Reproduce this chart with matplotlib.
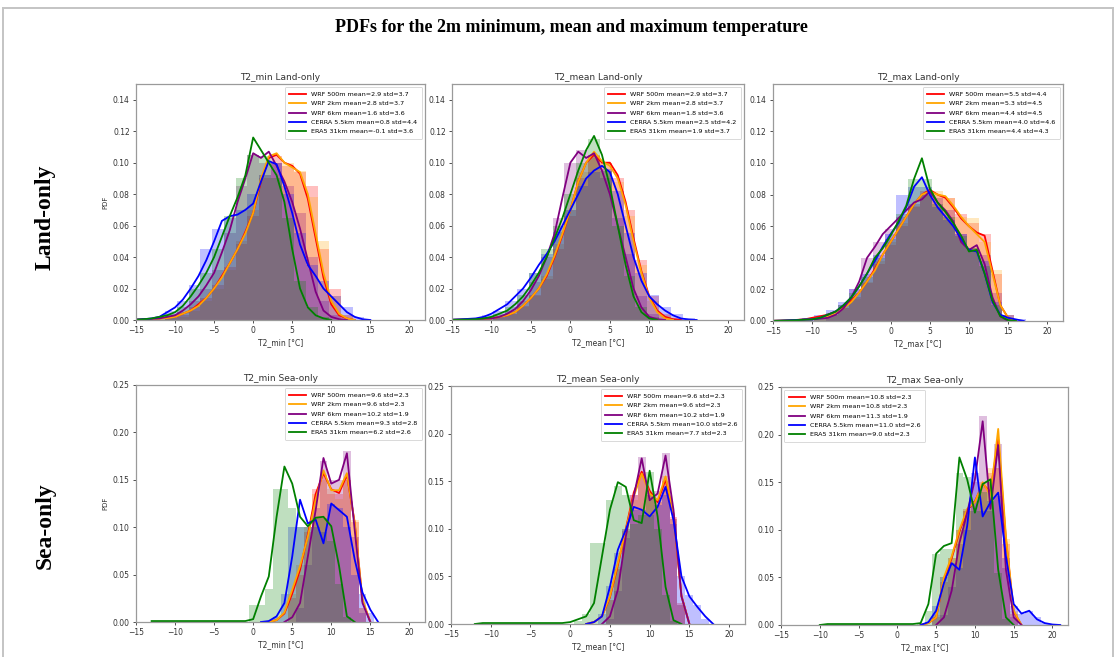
import matplotlib
matplotlib.use("Agg")
import matplotlib.pyplot as plt
from matplotlib.lines import Line2D
from matplotlib.ticker import FormatStrFormatter
import numpy as np

# ---- shared names / colours ----
names = ['WRF 500m', 'WRF 2km', 'WRF 6km', 'CERRA 5.5km', 'ERA5 31km']
colors = ['red', 'orange', 'purple', 'blue', 'green']

# ---- grids (deg C) ----
land_x = [-15, -14, -13, -12, -11, -10, -9, -8, -7, -6, -5, -4, -3, -2, -1,
          0, 1, 2, 3, 4, 5, 6, 7, 8, 9, 10, 11, 12, 13, 14, 15, 16, 17]
sea_x = [-13, -12, -11, -10, -9, -8, -7, -6, -5, -4, -3, -2, -1,
         0, 1, 2, 3, 4, 5, 6, 7, 8, 9, 10, 11, 12, 13, 14, 15, 16, 17, 18, 19, 20, 21]
land_bins = [-13.5, -12, -10.5, -9, -7.5, -6, -4.5, -3, -1.5, 0, 1.5, 3, 4.5, 6,
             7.5, 9, 10.5, 12, 13.5, 15, 16.5]
sea_bins = [0, 1, 2, 3, 4, 5, 6, 7, 8, 9, 10, 11, 12, 13, 14, 15, 16, 17, 18, 19, 20]

# ---- T2_min land: kde curves ----
tmin_land_wrf500 = [0.0002, 0.0003, 0.0006, 0.001, 0.0015, 0.002, 0.004, 0.006, 0.010, 0.014, 0.020, 0.028, 0.036, 0.045, 0.056,
                    0.068, 0.088, 0.103, 0.105, 0.100, 0.098, 0.093, 0.077, 0.052, 0.027, 0.010, 0.003, 0.001, 0, 0, 0, 0, 0]
tmin_land_wrf2 = [0.0002, 0.0003, 0.0005, 0.0008, 0.0012, 0.002, 0.004, 0.006, 0.009, 0.014, 0.020, 0.027, 0.036, 0.045, 0.055,
                  0.068, 0.090, 0.104, 0.106, 0.100, 0.097, 0.094, 0.080, 0.055, 0.030, 0.012, 0.004, 0.001, 0, 0, 0, 0, 0]
tmin_land_wrf6 = [0.0002, 0.0004, 0.0007, 0.001, 0.002, 0.003, 0.006, 0.010, 0.015, 0.022, 0.030, 0.043, 0.057, 0.075, 0.090,
                  0.106, 0.103, 0.107, 0.098, 0.088, 0.075, 0.058, 0.038, 0.018, 0.006, 0.002, 0.0005, 0, 0, 0, 0, 0, 0]
tmin_land_cerra = [0.0002, 0.0005, 0.001, 0.002, 0.005, 0.008, 0.013, 0.020, 0.028, 0.038, 0.050, 0.063, 0.066, 0.067, 0.070,
                   0.074, 0.088, 0.101, 0.099, 0.085, 0.068, 0.048, 0.035, 0.028, 0.020, 0.015, 0.010, 0.005, 0.002, 0.0005, 0, 0, 0]
tmin_land_era5 = [0.0002, 0.0005, 0.001, 0.002, 0.003, 0.005, 0.009, 0.015, 0.022, 0.030, 0.040, 0.053, 0.066, 0.078, 0.092,
                  0.116, 0.108, 0.100, 0.092, 0.075, 0.045, 0.020, 0.008, 0.003, 0.001, 0, 0, 0, 0, 0, 0, 0, 0]
# histograms
tmin_land_h_wrf500 = [0, 0, 0.001, 0.003, 0.008, 0.014, 0.022, 0.034, 0.048, 0.066, 0.090, 0.104, 0.098, 0.094, 0.085, 0.045, 0.020, 0.003, 0, 0, 0]
tmin_land_h_wrf2 = [0, 0, 0.001, 0.002, 0.006, 0.012, 0.020, 0.032, 0.050, 0.070, 0.092, 0.100, 0.100, 0.095, 0.078, 0.050, 0.015, 0.003, 0, 0, 0]
tmin_land_h_wrf6 = [0, 0, 0.002, 0.005, 0.012, 0.020, 0.032, 0.055, 0.085, 0.105, 0.100, 0.100, 0.085, 0.068, 0.040, 0.012, 0.003, 0, 0, 0, 0]
tmin_land_h_cerra = [0.001, 0.002, 0.006, 0.012, 0.022, 0.045, 0.058, 0.065, 0.070, 0.080, 0.092, 0.100, 0.080, 0.055, 0.035, 0.025, 0.015, 0.008, 0.002, 0, 0]
tmin_land_h_era5 = [0, 0.001, 0.004, 0.008, 0.020, 0.030, 0.045, 0.066, 0.090, 0.105, 0.104, 0.090, 0.065, 0.025, 0.008, 0.002, 0, 0, 0, 0, 0]
tmin_land_mean = [2.9, 2.8, 1.6, 0.8, -0.1]
tmin_land_std = [3.7, 3.7, 3.6, 4.4, 3.6]

# ---- T2_mean land ----
tmean_land_wrf500 = [0.0001, 0.0002, 0.0003, 0.0005, 0.0008, 0.001, 0.002, 0.003, 0.005, 0.009, 0.014, 0.020, 0.028, 0.040, 0.054,
                     0.070, 0.088, 0.100, 0.105, 0.100, 0.100, 0.092, 0.075, 0.052, 0.031, 0.015, 0.006, 0.002, 0.0005, 0, 0, 0, 0]
tmean_land_wrf2 = [0.0001, 0.0002, 0.0003, 0.0005, 0.0008, 0.001, 0.002, 0.003, 0.005, 0.009, 0.014, 0.020, 0.029, 0.041, 0.055,
                   0.070, 0.088, 0.100, 0.107, 0.101, 0.098, 0.090, 0.073, 0.050, 0.030, 0.014, 0.005, 0.001, 0, 0, 0, 0, 0]
tmean_land_wrf6 = [0.0001, 0.0002, 0.0003, 0.0005, 0.0008, 0.001, 0.002, 0.004, 0.007, 0.012, 0.019, 0.028, 0.040, 0.055, 0.078,
                   0.100, 0.107, 0.103, 0.106, 0.095, 0.080, 0.060, 0.040, 0.020, 0.008, 0.002, 0.0005, 0, 0, 0, 0, 0, 0]
tmean_land_cerra = [0.0002, 0.0004, 0.0007, 0.001, 0.002, 0.004, 0.007, 0.010, 0.015, 0.020, 0.027, 0.035, 0.042, 0.050, 0.060,
                    0.070, 0.080, 0.090, 0.095, 0.098, 0.094, 0.080, 0.060, 0.040, 0.025, 0.015, 0.010, 0.006, 0.003, 0.001, 0.0003, 0, 0]
tmean_land_era5 = [0.0001, 0.0002, 0.0003, 0.0005, 0.001, 0.002, 0.004, 0.006, 0.010, 0.015, 0.022, 0.030, 0.040, 0.052, 0.065,
                   0.080, 0.095, 0.108, 0.117, 0.105, 0.085, 0.060, 0.035, 0.015, 0.005, 0.001, 0, 0, 0, 0, 0, 0, 0]
tmean_land_h_wrf500 = [0, 0, 0, 0.002, 0.004, 0.009, 0.016, 0.026, 0.045, 0.066, 0.090, 0.105, 0.100, 0.090, 0.070, 0.038, 0.015, 0.004, 0.001, 0, 0]
tmean_land_h_wrf2 = [0, 0, 0, 0.001, 0.004, 0.008, 0.015, 0.028, 0.048, 0.070, 0.094, 0.103, 0.100, 0.088, 0.066, 0.035, 0.012, 0.003, 0, 0, 0]
tmean_land_h_wrf6 = [0, 0, 0, 0.002, 0.006, 0.012, 0.024, 0.040, 0.065, 0.100, 0.108, 0.104, 0.090, 0.065, 0.042, 0.015, 0.004, 0, 0, 0, 0]
tmean_land_h_cerra = [0, 0.001, 0.003, 0.006, 0.012, 0.020, 0.030, 0.042, 0.056, 0.070, 0.085, 0.094, 0.096, 0.082, 0.055, 0.030, 0.016, 0.008, 0.004, 0.001, 0]
tmean_land_h_era5 = [0, 0, 0.002, 0.004, 0.008, 0.016, 0.030, 0.045, 0.060, 0.080, 0.100, 0.115, 0.095, 0.060, 0.028, 0.008, 0.002, 0, 0, 0, 0]
tmean_land_mean = [2.9, 2.8, 1.8, 2.5, 1.9]
tmean_land_std = [3.7, 3.7, 3.6, 4.2, 3.7]

# ---- T2_max land ----
tmax_land_wrf500 = [0.0001, 0.0002, 0.0004, 0.0007, 0.001, 0.002, 0.003, 0.004, 0.006, 0.009, 0.013, 0.018, 0.025, 0.033, 0.042,
                    0.050, 0.058, 0.066, 0.074, 0.080, 0.083, 0.080, 0.078, 0.072, 0.065, 0.060, 0.056, 0.054, 0.032, 0.010, 0.002, 0, 0]
tmax_land_wrf2 = [0.0001, 0.0002, 0.0003, 0.0006, 0.001, 0.001, 0.002, 0.003, 0.005, 0.008, 0.012, 0.018, 0.025, 0.032, 0.042,
                  0.050, 0.058, 0.066, 0.074, 0.080, 0.082, 0.080, 0.079, 0.073, 0.066, 0.060, 0.055, 0.050, 0.030, 0.010, 0.002, 0, 0]
tmax_land_wrf6 = [0.0001, 0.0002, 0.0003, 0.0005, 0.0008, 0.001, 0.0015, 0.002, 0.004, 0.008, 0.015, 0.025, 0.040, 0.047, 0.055,
                  0.060, 0.065, 0.070, 0.075, 0.077, 0.082, 0.075, 0.070, 0.063, 0.050, 0.045, 0.048, 0.036, 0.015, 0.003, 0, 0, 0]
tmax_land_cerra = [0.0001, 0.0002, 0.0004, 0.0006, 0.001, 0.001, 0.002, 0.004, 0.006, 0.010, 0.015, 0.022, 0.030, 0.038, 0.047,
                   0.055, 0.062, 0.072, 0.085, 0.091, 0.080, 0.072, 0.066, 0.060, 0.052, 0.045, 0.044, 0.030, 0.012, 0.004, 0.002, 0.001, 0]
tmax_land_era5 = [0.0001, 0.0002, 0.0003, 0.0005, 0.0008, 0.001, 0.002, 0.004, 0.006, 0.010, 0.015, 0.022, 0.030, 0.040, 0.046,
                  0.054, 0.063, 0.073, 0.090, 0.103, 0.084, 0.075, 0.069, 0.062, 0.054, 0.044, 0.045, 0.030, 0.013, 0.003, 0.0005, 0, 0]
tmax_land_h_wrf500 = [0, 0, 0, 0.002, 0.004, 0.008, 0.015, 0.024, 0.036, 0.048, 0.060, 0.072, 0.082, 0.080, 0.078, 0.068, 0.062, 0.055, 0.030, 0.004, 0]
tmax_land_h_wrf2 = [0, 0, 0, 0.001, 0.004, 0.008, 0.014, 0.025, 0.038, 0.050, 0.062, 0.073, 0.080, 0.082, 0.078, 0.066, 0.065, 0.050, 0.032, 0.004, 0]
tmax_land_h_wrf6 = [0, 0, 0, 0, 0.004, 0.010, 0.020, 0.040, 0.050, 0.058, 0.066, 0.074, 0.080, 0.078, 0.070, 0.055, 0.046, 0.042, 0.018, 0.002, 0]
tmax_land_h_cerra = [0, 0, 0.002, 0.004, 0.007, 0.012, 0.020, 0.030, 0.042, 0.055, 0.080, 0.085, 0.085, 0.072, 0.064, 0.055, 0.045, 0.038, 0.012, 0.004, 0.001]
tmax_land_h_era5 = [0, 0, 0, 0.002, 0.005, 0.010, 0.018, 0.028, 0.040, 0.052, 0.068, 0.090, 0.090, 0.074, 0.066, 0.054, 0.046, 0.035, 0.010, 0.001, 0]
tmax_land_mean = [5.5, 5.3, 4.4, 4.0, 4.4]
tmax_land_std = [4.4, 4.5, 4.5, 4.6, 4.3]

# ---- T2_min sea ----
tmin_sea_wrf500 = [0, 0, 0, 0, 0, 0, 0, 0, 0, 0, 0, 0, 0,
                   0, 0, 0, 0.002, 0.009, 0.030, 0.055, 0.092, 0.135, 0.157, 0.140, 0.136, 0.155, 0.105, 0.022, 0, 0, 0, 0, 0, 0, 0]
tmin_sea_wrf2 = [0, 0, 0, 0, 0, 0, 0, 0, 0, 0, 0, 0, 0,
                 0, 0, 0, 0.002, 0.010, 0.034, 0.059, 0.090, 0.129, 0.160, 0.139, 0.139, 0.157, 0.104, 0.024, 0, 0, 0, 0, 0, 0, 0]
tmin_sea_wrf6 = [0, 0, 0, 0, 0, 0, 0, 0, 0, 0, 0, 0, 0,
                 0, 0, 0, 0, 0, 0.005, 0.020, 0.069, 0.118, 0.173, 0.146, 0.150, 0.178, 0.097, 0.020, 0, 0, 0, 0, 0, 0, 0]
tmin_sea_cerra = [0, 0, 0, 0, 0, 0, 0, 0, 0, 0, 0, 0, 0,
                  0, 0, 0.001, 0.006, 0.020, 0.069, 0.129, 0.104, 0.108, 0.083, 0.125, 0.118, 0.111, 0.066, 0.031, 0.013, 0, 0, 0, 0, 0, 0]
tmin_sea_era5 = [0.001, 0.001, 0.001, 0.001, 0.001, 0.001, 0.001, 0.001, 0.001, 0.001, 0.001, 0.001, 0.001,
                 0.003, 0.027, 0.048, 0.111, 0.164, 0.146, 0.111, 0.101, 0.110, 0.111, 0.101, 0.059, 0.006, 0, 0, 0, 0, 0, 0, 0, 0, 0]
tmin_sea_h_wrf500 = [0, 0, 0, 0, 0, 0.025, 0.050, 0.095, 0.140, 0.155, 0.135, 0.135, 0.150, 0.105, 0.015, 0, 0, 0, 0, 0, 0]
tmin_sea_h_wrf2 = [0, 0, 0, 0, 0, 0.030, 0.060, 0.100, 0.135, 0.150, 0.140, 0.130, 0.150, 0.108, 0.015, 0, 0, 0, 0, 0, 0]
tmin_sea_h_wrf6 = [0, 0, 0, 0, 0, 0, 0.015, 0.060, 0.120, 0.170, 0.150, 0.150, 0.180, 0.090, 0.010, 0, 0, 0, 0, 0, 0]
tmin_sea_h_cerra = [0, 0, 0, 0.005, 0.030, 0.100, 0.100, 0.100, 0.100, 0.095, 0.125, 0.120, 0.100, 0.050, 0.030, 0.010, 0, 0, 0, 0, 0]
tmin_sea_h_era5 = [0.018, 0.018, 0.035, 0.140, 0.140, 0.120, 0.100, 0.100, 0.110, 0.110, 0.085, 0.040, 0.005, 0, 0, 0, 0, 0, 0, 0, 0]
tmin_sea_mean = [9.6, 9.6, 10.2, 9.3, 6.2]
tmin_sea_std = [2.3, 2.3, 1.9, 2.8, 2.6]

# ---- T2_mean sea ----
tmean_sea_wrf500 = [0, 0, 0, 0, 0, 0, 0, 0, 0, 0, 0, 0, 0,
                    0, 0, 0, 0.002, 0.008, 0.028, 0.062, 0.100, 0.138, 0.160, 0.140, 0.128, 0.152, 0.115, 0.030, 0, 0, 0, 0, 0, 0, 0]
tmean_sea_wrf2 = [0, 0, 0, 0, 0, 0, 0, 0, 0, 0, 0, 0, 0,
                  0, 0, 0, 0.002, 0.008, 0.029, 0.064, 0.099, 0.134, 0.158, 0.137, 0.130, 0.155, 0.116, 0.029, 0, 0, 0, 0, 0, 0, 0]
tmean_sea_wrf6 = [0, 0, 0, 0, 0, 0, 0, 0, 0, 0, 0, 0, 0,
                  0, 0, 0, 0, 0, 0.008, 0.036, 0.092, 0.134, 0.174, 0.130, 0.137, 0.177, 0.120, 0.029, 0, 0, 0, 0, 0, 0, 0]
tmean_sea_cerra = [0, 0, 0, 0, 0, 0, 0, 0, 0, 0, 0, 0, 0,
                   0, 0, 0, 0.002, 0.008, 0.039, 0.078, 0.099, 0.123, 0.120, 0.113, 0.123, 0.144, 0.109, 0.050, 0.029, 0.018, 0.008, 0, 0, 0, 0]
tmean_sea_era5 = [0, 0, 0.001, 0.001, 0.001, 0.001, 0.001, 0.001, 0.001, 0.001, 0.001, 0.001, 0.001,
                  0.002, 0.005, 0.008, 0.022, 0.071, 0.120, 0.149, 0.144, 0.109, 0.106, 0.161, 0.113, 0.039, 0.004, 0, 0, 0, 0, 0, 0, 0, 0]
tmean_sea_h_wrf500 = [0, 0, 0, 0, 0, 0.025, 0.058, 0.098, 0.135, 0.160, 0.138, 0.128, 0.150, 0.112, 0.022, 0, 0, 0, 0, 0, 0]
tmean_sea_h_wrf2 = [0, 0, 0, 0, 0, 0.025, 0.060, 0.100, 0.130, 0.155, 0.135, 0.130, 0.155, 0.110, 0.020, 0, 0, 0, 0, 0, 0]
tmean_sea_h_wrf6 = [0, 0, 0, 0, 0, 0.005, 0.035, 0.090, 0.135, 0.175, 0.135, 0.140, 0.180, 0.110, 0.020, 0, 0, 0, 0, 0, 0]
tmean_sea_h_cerra = [0, 0, 0, 0, 0.010, 0.040, 0.075, 0.100, 0.120, 0.120, 0.115, 0.125, 0.135, 0.105, 0.050, 0.030, 0.020, 0.005, 0, 0, 0]
tmean_sea_h_era5 = [0, 0.003, 0.010, 0.085, 0.085, 0.130, 0.145, 0.135, 0.105, 0.115, 0.160, 0.100, 0.030, 0.003, 0, 0, 0, 0, 0, 0, 0]
tmean_sea_mean = [9.6, 9.6, 10.2, 10.0, 7.7]
tmean_sea_std = [2.3, 2.3, 1.9, 2.6, 2.3]

# ---- T2_max sea ----
tmax_sea_wrf500 = [0, 0, 0, 0, 0, 0, 0, 0, 0, 0, 0, 0, 0,
                   0, 0, 0, 0, 0.002, 0.008, 0.048, 0.070, 0.098, 0.120, 0.130, 0.148, 0.140, 0.195, 0.090, 0.014, 0, 0, 0, 0, 0, 0]
tmax_sea_wrf2 = [0, 0, 0, 0, 0, 0, 0, 0, 0, 0, 0, 0, 0,
                 0, 0, 0, 0, 0.002, 0.008, 0.050, 0.072, 0.100, 0.122, 0.129, 0.150, 0.136, 0.206, 0.093, 0.015, 0, 0, 0, 0, 0, 0]
tmax_sea_wrf6 = [0, 0, 0, 0, 0, 0, 0, 0, 0, 0, 0, 0, 0,
                 0, 0, 0, 0, 0, 0, 0.008, 0.036, 0.086, 0.118, 0.153, 0.214, 0.122, 0.189, 0.058, 0.008, 0, 0, 0, 0, 0, 0]
tmax_sea_cerra = [0, 0, 0, 0, 0, 0, 0, 0, 0, 0, 0, 0, 0,
                  0, 0, 0, 0, 0.003, 0.015, 0.044, 0.065, 0.058, 0.104, 0.176, 0.114, 0.129, 0.139, 0.072, 0.022, 0.012, 0.015, 0.006, 0.002, 0.0005, 0]
tmax_sea_era5 = [0, 0, 0, 0, 0.001, 0.001, 0.001, 0.001, 0.001, 0.001, 0.001, 0.001, 0.001,
                 0.001, 0.001, 0.001, 0.002, 0.022, 0.075, 0.083, 0.086, 0.176, 0.153, 0.118, 0.148, 0.153, 0.058, 0.008, 0, 0, 0, 0, 0, 0, 0]
tmax_sea_h_wrf500 = [0, 0, 0, 0, 0, 0.008, 0.045, 0.070, 0.100, 0.122, 0.130, 0.145, 0.160, 0.165, 0.085, 0.012, 0, 0, 0, 0, 0]
tmax_sea_h_wrf2 = [0, 0, 0, 0, 0, 0.010, 0.050, 0.070, 0.100, 0.120, 0.130, 0.150, 0.165, 0.165, 0.090, 0.015, 0, 0, 0, 0, 0]
tmax_sea_h_wrf6 = [0, 0, 0, 0, 0, 0, 0.010, 0.040, 0.085, 0.120, 0.150, 0.220, 0.120, 0.190, 0.060, 0.008, 0, 0, 0, 0, 0]
tmax_sea_h_cerra = [0, 0, 0, 0, 0, 0.020, 0.050, 0.065, 0.060, 0.100, 0.160, 0.120, 0.130, 0.135, 0.070, 0.020, 0.012, 0.015, 0.008, 0.002, 0]
tmax_sea_h_era5 = [0, 0, 0, 0.002, 0.015, 0.075, 0.080, 0.080, 0.160, 0.155, 0.120, 0.140, 0.150, 0.055, 0.006, 0, 0, 0, 0, 0, 0]
tmax_sea_mean = [10.8, 10.8, 11.3, 11.0, 9.0]
tmax_sea_std = [2.3, 2.3, 1.9, 2.6, 2.3]

xticks = [-15, -10, -5, 0, 5, 10, 15, 20]
land_yticks = [0.00, 0.02, 0.04, 0.06, 0.08, 0.10, 0.12, 0.14]
sea_yticks = [0.00, 0.05, 0.10, 0.15, 0.20, 0.25]

W, H = 1117, 657
fig = plt.figure(figsize=(W / 100, H / 100), dpi=100)


def px_rect(l, t, r, b):
    return [l / W, 1 - b / H, (r - l) / W, (b - t) / H]


def trim(x, y):
    # drop the flat zero tails so lines stop where the kde stops
    x = np.asarray(x, float)
    y = np.asarray(y, float)
    nz = np.nonzero(y)[0]
    i0 = max(nz[0] - 1, 0)
    i1 = min(nz[-1] + 2, len(y))
    return x[i0:i1], y[i0:i1]


def panel(rect, title, xlabel, ylim, yticks, cx, curves, bx, bw, hists, means, stds, loc, ylabel):
    ax = fig.add_axes(rect)
    for c, curve, hist, name, m, s in zip(colors, curves, hists, names, means, stds):
        ax.bar(bx, hist, width=bw, color=c, alpha=0.25, linewidth=0)
        xs, ys = trim(cx, curve)
        ax.plot(xs, ys, color=c, lw=1.3, label=f'{name} mean={m:.1f} std={s:.1f}')
    ax.set_xlim(-15, 22)
    ax.set_ylim(*ylim)
    ax.set_xticks(xticks)
    ax.set_yticks(yticks)
    ax.yaxis.set_major_formatter(FormatStrFormatter('%.2f'))
    ax.tick_params(labelsize=5.5, length=2.5, width=0.6, colors='#333333', pad=2)
    for sp in ax.spines.values():
        sp.set_color('#9a9a9a')
        sp.set_linewidth(0.9)
    ax.set_title(title, fontsize=6.5, color='#333333', pad=3)
    ax.set_xlabel(xlabel, fontsize=5.5, color='#333333', labelpad=2)
    if ylabel:
        ax.set_ylabel('PDF', fontsize=5, color='#333333', labelpad=3)
    leg = ax.legend(loc=loc, fontsize=4.6, handlelength=2.6, borderpad=0.7,
                    labelspacing=0.6, framealpha=0.85)
    leg.get_frame().set_edgecolor('#cccccc')
    leg.get_frame().set_linewidth(0.6)
    return ax


panel(px_rect(136, 84, 425, 320), 'T2_min Land-only', 'T2_min [°C]', (0, 0.15), land_yticks, land_x,
      [tmin_land_wrf500, tmin_land_wrf2, tmin_land_wrf6, tmin_land_cerra, tmin_land_era5], land_bins, 1.5,
      [tmin_land_h_wrf500, tmin_land_h_wrf2, tmin_land_h_wrf6, tmin_land_h_cerra, tmin_land_h_era5],
      tmin_land_mean, tmin_land_std, 'upper right', True)
panel(px_rect(452, 84, 744, 320), 'T2_mean Land-only', 'T2_mean [°C]', (0, 0.15), land_yticks, land_x,
      [tmean_land_wrf500, tmean_land_wrf2, tmean_land_wrf6, tmean_land_cerra, tmean_land_era5], land_bins, 1.5,
      [tmean_land_h_wrf500, tmean_land_h_wrf2, tmean_land_h_wrf6, tmean_land_h_cerra, tmean_land_h_era5],
      tmean_land_mean, tmean_land_std, 'upper right', False)
panel(px_rect(773, 84, 1063, 321), 'T2_max Land-only', 'T2_max [°C]', (0, 0.15), land_yticks, land_x,
      [tmax_land_wrf500, tmax_land_wrf2, tmax_land_wrf6, tmax_land_cerra, tmax_land_era5], land_bins, 1.5,
      [tmax_land_h_wrf500, tmax_land_h_wrf2, tmax_land_h_wrf6, tmax_land_h_cerra, tmax_land_h_era5],
      tmax_land_mean, tmax_land_std, 'upper right', False)
panel(px_rect(136, 385, 425, 622), 'T2_min Sea-only', 'T2_min [°C]', (0, 0.25), sea_yticks, sea_x,
      [tmin_sea_wrf500, tmin_sea_wrf2, tmin_sea_wrf6, tmin_sea_cerra, tmin_sea_era5], sea_bins, 1.0,
      [tmin_sea_h_wrf500, tmin_sea_h_wrf2, tmin_sea_h_wrf6, tmin_sea_h_cerra, tmin_sea_h_era5],
      tmin_sea_mean, tmin_sea_std, 'upper right', True)
panel(px_rect(451, 386, 745, 624), 'T2_mean Sea-only', 'T2_mean [°C]', (0, 0.25), sea_yticks, sea_x,
      [tmean_sea_wrf500, tmean_sea_wrf2, tmean_sea_wrf6, tmean_sea_cerra, tmean_sea_era5], sea_bins, 1.0,
      [tmean_sea_h_wrf500, tmean_sea_h_wrf2, tmean_sea_h_wrf6, tmean_sea_h_cerra, tmean_sea_h_era5],
      tmean_sea_mean, tmean_sea_std, 'upper right', False)
panel(px_rect(781, 387, 1068, 625), 'T2_max Sea-only', 'T2_max [°C]', (0, 0.25), sea_yticks, sea_x,
      [tmax_sea_wrf500, tmax_sea_wrf2, tmax_sea_wrf6, tmax_sea_cerra, tmax_sea_era5], sea_bins, 1.0,
      [tmax_sea_h_wrf500, tmax_sea_h_wrf2, tmax_sea_h_wrf6, tmax_sea_h_cerra, tmax_sea_h_era5],
      tmax_sea_mean, tmax_sea_std, 'upper left', False)

# slide frame
frame_kw = dict(color='#c4c4c4', lw=1.4, transform=fig.transFigure)
fig.add_artist(Line2D([3 / W, 1113 / W], [1 - 8 / H, 1 - 8 / H], **frame_kw))
fig.add_artist(Line2D([3 / W, 3 / W], [0, 1 - 8 / H], **frame_kw))
fig.add_artist(Line2D([1113 / W, 1113 / W], [0, 1 - 8 / H], **frame_kw))

fig.text(571 / W, 1 - 27 / H, 'PDFs for the 2m minimum, mean and maximum temperature',
         ha='center', va='center', fontsize=13, fontweight='bold', family='Liberation Serif')
fig.text(45 / W, 1 - 217 / H, 'Land-only', rotation=90, ha='center', va='center',
         fontsize=17, fontweight='bold', family='Liberation Serif')
fig.text(45 / W, 1 - 526 / H, 'Sea-only', rotation=90, ha='center', va='center',
         fontsize=17, fontweight='bold', family='Liberation Serif')

fig.savefig('out.png', dpi=100)
